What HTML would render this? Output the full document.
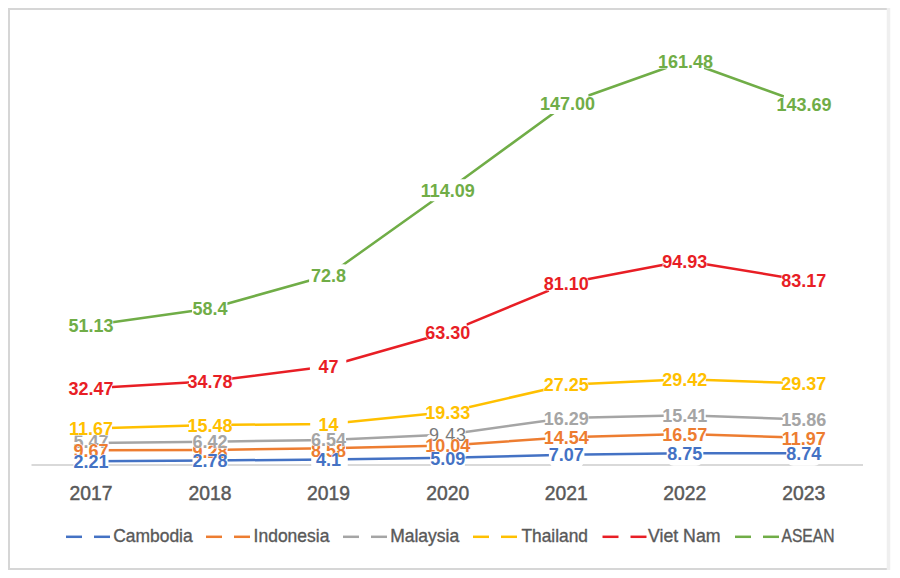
<!DOCTYPE html>
<html><head><meta charset="utf-8"><style>
html,body{margin:0;padding:0;background:#fff;width:900px;height:578px;overflow:hidden}
svg{position:absolute;left:0;top:0}
text{font-family:"Liberation Sans",sans-serif}
.lab text.reg{font-weight:normal;letter-spacing:0.6px}
.lab text{font-size:18px;font-weight:bold;text-anchor:middle;stroke:#fff;stroke-width:1px;paint-order:stroke;stroke-linejoin:round}
.ax text{font-size:19.3px;fill:#595959;stroke:#595959;stroke-width:0.45px;text-anchor:middle}
.leg text{font-size:17.8px;fill:#595959;stroke:#595959;stroke-width:0.35px}
</style></head><body>
<svg width="900" height="578" viewBox="0 0 900 578">
<rect x="0" y="0" width="900" height="578" fill="#fff"/>
<path d="M888 9 H9 V569 H888" fill="none" stroke="#D6D6D6" stroke-width="2"/>
<line x1="888.5" y1="8" x2="888.5" y2="570" stroke="#EFEFEF" stroke-width="3.5"/>
<g>
<line x1="31.5" y1="464.9" x2="863" y2="464.9" stroke="#D9D9D9" stroke-width="2"/>
<polyline points="91,461.3 210,460.5 328.5,459.5 447.8,457.8 566.3,454.7 684.7,453.3 803.8,453.3" fill="none" stroke="#4472C4" stroke-width="2.5" stroke-linejoin="round"/>
<polyline points="91,450.2 210,450 328.5,448.3 447.8,445.5 566.3,437.3 684.7,434 803.8,437.8" fill="none" stroke="#ED7D31" stroke-width="2.5" stroke-linejoin="round"/>
<polyline points="91,443 210,441.7 328.5,440 447.8,434.4 566.3,418 684.7,415.3 803.8,419.4" fill="none" stroke="#A5A5A5" stroke-width="2.5" stroke-linejoin="round"/>
<polyline points="91,428.5 210,425 328.5,424 447.8,412 566.3,384.7 684.7,379.3 803.8,383.3" fill="none" stroke="#FFC000" stroke-width="2.5" stroke-linejoin="round"/>
<polyline points="91,388.3 210,381.3 328.5,366.2 447.8,332.3 566.3,283.3 684.7,260.8 803.8,280.4" fill="none" stroke="#E81E25" stroke-width="2.5" stroke-linejoin="round"/>
<polyline points="91,325.3 210,308.5 328.5,275.3 447.8,190.2 567.5,103 685.5,61 804,103.8" fill="none" stroke="#70AD47" stroke-width="2.5" stroke-linejoin="round"/>
</g>
<g>
<rect x="73.5" y="448.8" width="35.0" height="25.0" rx="7" fill="#fff"/>
<rect x="192.5" y="448.0" width="35.0" height="25.0" rx="7" fill="#fff"/>
<rect x="311.2" y="447.0" width="36.6" height="25.0" rx="7" fill="#fff"/>
<rect x="430.3" y="445.3" width="35.0" height="25.0" rx="7" fill="#fff"/>
<rect x="548.9" y="442.2" width="35.5" height="25.0" rx="7" fill="#fff"/>
<rect x="666.7" y="440.8" width="36.6" height="25.0" rx="7" fill="#fff"/>
<rect x="786.3" y="440.8" width="35.0" height="25.0" rx="7" fill="#fff"/>
<rect x="73.5" y="439.2" width="35.0" height="22" rx="4" fill="#fff"/>
<rect x="192.5" y="439.0" width="35.0" height="22" rx="4" fill="#fff"/>
<rect x="311.0" y="437.3" width="35.0" height="22" rx="4" fill="#fff"/>
<rect x="426.8" y="434.5" width="42.0" height="22" rx="4" fill="#fff"/>
<rect x="545.3" y="426.3" width="42.0" height="22" rx="4" fill="#fff"/>
<rect x="663.7" y="423.0" width="42.0" height="22" rx="4" fill="#fff"/>
<rect x="782.8" y="426.8" width="42.0" height="22" rx="4" fill="#fff"/>
<rect x="73.5" y="432.0" width="35.0" height="22" rx="4" fill="#fff"/>
<rect x="192.5" y="430.7" width="35.0" height="22" rx="4" fill="#fff"/>
<rect x="311.0" y="429.0" width="35.0" height="22" rx="4" fill="#fff"/>
<rect x="430.3" y="423.4" width="35.0" height="22" rx="4" fill="#fff"/>
<rect x="545.3" y="407.0" width="42.0" height="22" rx="4" fill="#fff"/>
<rect x="663.7" y="404.3" width="42.0" height="22" rx="4" fill="#fff"/>
<rect x="782.8" y="408.4" width="42.0" height="22" rx="4" fill="#fff"/>
<rect x="70.0" y="417.5" width="42.0" height="22" rx="4" fill="#fff"/>
<rect x="189.0" y="414.0" width="42.0" height="22" rx="4" fill="#fff"/>
<rect x="310.2" y="413.0" width="37.6" height="22" rx="4" fill="#fff"/>
<rect x="426.8" y="401.0" width="42.0" height="22" rx="4" fill="#fff"/>
<rect x="545.3" y="373.7" width="42.0" height="22" rx="4" fill="#fff"/>
<rect x="663.7" y="368.3" width="42.0" height="22" rx="4" fill="#fff"/>
<rect x="782.8" y="372.3" width="42.0" height="22" rx="4" fill="#fff"/>
<rect x="70.0" y="377.3" width="42.0" height="22" rx="4" fill="#fff"/>
<rect x="189.0" y="370.3" width="42.5" height="22" rx="4" fill="#fff"/>
<rect x="309.9" y="355.2" width="36.4" height="22" rx="4" fill="#fff"/>
<rect x="428.8" y="321.3" width="38.0" height="22" rx="4" fill="#fff"/>
<rect x="549.0" y="272.3" width="37.3" height="22" rx="4" fill="#fff"/>
<rect x="663.7" y="249.8" width="42.0" height="22" rx="4" fill="#fff"/>
<rect x="782.8" y="269.4" width="42.0" height="22" rx="4" fill="#fff"/>
<rect x="70.0" y="314.3" width="43.0" height="22" rx="4" fill="#fff"/>
<rect x="192.0" y="297.5" width="35.4" height="22" rx="4" fill="#fff"/>
<rect x="309.1" y="264.3" width="38.4" height="22" rx="4" fill="#fff"/>
<rect x="427.8" y="179.2" width="40.0" height="22" rx="4" fill="#fff"/>
<rect x="547.5" y="92.0" width="41.0" height="22" rx="4" fill="#fff"/>
<rect x="667.0" y="50.0" width="37.0" height="22" rx="4" fill="#fff"/>
<rect x="783.8" y="92.8" width="40.2" height="22" rx="4" fill="#fff"/>
</g>
<g class="lab">
<text x="447.8" y="441.1" fill="#7A7A7A" class="reg">9.43</text>
<text x="91" y="448.2" fill="#A5A5A5">5.47</text>
<text x="566.3" y="424.7" fill="#A5A5A5">16.29</text>
<text x="684.7" y="422.0" fill="#A5A5A5">15.41</text>
<text x="803.8" y="426.1" fill="#A5A5A5">15.86</text>
<text x="91" y="456.7" fill="#ED7D31">9.67</text>
<text x="210" y="457.7" fill="#ED7D31">9.28</text>
<text x="328.5" y="456.5" fill="#ED7D31">8.58</text>
<text x="447.8" y="452.2" fill="#ED7D31">10.04</text>
<text x="566.3" y="444.0" fill="#ED7D31">14.54</text>
<text x="684.7" y="440.7" fill="#ED7D31">16.57</text>
<text x="803.8" y="444.5" fill="#ED7D31">11.97</text>
<text x="210" y="447.5" fill="#A5A5A5">6.42</text>
<text x="328.5" y="445.9" fill="#A5A5A5">6.54</text>
<text x="91" y="468.0" fill="#4472C4">2.21</text>
<text x="210" y="467.2" fill="#4472C4">2.78</text>
<text x="328.5" y="466.2" fill="#4472C4">4.1</text>
<text x="447.8" y="464.5" fill="#4472C4">5.09</text>
<text x="566.3" y="461.4" fill="#4472C4">7.07</text>
<text x="684.7" y="460.0" fill="#4472C4">8.75</text>
<text x="803.8" y="460.0" fill="#4472C4">8.74</text>
<text x="91" y="435.2" fill="#FFC000">11.67</text>
<text x="210" y="431.7" fill="#FFC000">15.48</text>
<text x="328.5" y="430.7" fill="#FFC000">14</text>
<text x="447.8" y="418.7" fill="#FFC000">19.33</text>
<text x="566.3" y="391.4" fill="#FFC000">27.25</text>
<text x="684.7" y="386.0" fill="#FFC000">29.42</text>
<text x="803.8" y="390.0" fill="#FFC000">29.37</text>
<text x="91" y="395.0" fill="#E81E25">32.47</text>
<text x="210" y="388.0" fill="#E81E25">34.78</text>
<text x="328.5" y="372.9" fill="#E81E25">47</text>
<text x="447.8" y="339.0" fill="#E81E25">63.30</text>
<text x="566.3" y="290.0" fill="#E81E25">81.10</text>
<text x="684.7" y="267.5" fill="#E81E25">94.93</text>
<text x="803.8" y="287.1" fill="#E81E25">83.17</text>
<text x="91" y="332.0" fill="#70AD47">51.13</text>
<text x="210" y="315.2" fill="#70AD47">58.4</text>
<text x="328.5" y="282.0" fill="#70AD47">72.8</text>
<text x="447.8" y="196.9" fill="#70AD47">114.09</text>
<text x="567.5" y="109.7" fill="#70AD47">147.00</text>
<text x="685.5" y="67.7" fill="#70AD47">161.48</text>
<text x="804" y="110.5" fill="#70AD47">143.69</text>
</g>
<g class="ax"><text x="91" y="499.5">2017</text><text x="210" y="499.5">2018</text><text x="328.5" y="499.5">2019</text><text x="447.8" y="499.5">2020</text><text x="566.3" y="499.5">2021</text><text x="684.7" y="499.5">2022</text><text x="803.8" y="499.5">2023</text></g>
<g class="leg">
<line x1="66" y1="536.8" x2="82" y2="536.8" stroke="#4472C4" stroke-width="2.5"/>
<line x1="94" y1="536.8" x2="110" y2="536.8" stroke="#4472C4" stroke-width="2.5"/>
<text x="113.2" y="541.6" textLength="79.5" lengthAdjust="spacingAndGlyphs">Cambodia</text>
<line x1="206" y1="536.8" x2="222" y2="536.8" stroke="#ED7D31" stroke-width="2.5"/>
<line x1="234" y1="536.8" x2="250" y2="536.8" stroke="#ED7D31" stroke-width="2.5"/>
<text x="253.6" y="541.6" textLength="75.8" lengthAdjust="spacingAndGlyphs">Indonesia</text>
<line x1="343" y1="536.8" x2="359" y2="536.8" stroke="#A5A5A5" stroke-width="2.5"/>
<line x1="371" y1="536.8" x2="387" y2="536.8" stroke="#A5A5A5" stroke-width="2.5"/>
<text x="390.2" y="541.6" textLength="69" lengthAdjust="spacingAndGlyphs">Malaysia</text>
<line x1="473" y1="536.8" x2="489" y2="536.8" stroke="#FFC000" stroke-width="2.5"/>
<line x1="501" y1="536.8" x2="517" y2="536.8" stroke="#FFC000" stroke-width="2.5"/>
<text x="521.5" y="541.6" textLength="66.5" lengthAdjust="spacingAndGlyphs">Thailand</text>
<line x1="602.5" y1="536.8" x2="618.5" y2="536.8" stroke="#E81E25" stroke-width="2.5"/>
<line x1="630.5" y1="536.8" x2="646.5" y2="536.8" stroke="#E81E25" stroke-width="2.5"/>
<text x="648" y="541.6" textLength="72.5" lengthAdjust="spacingAndGlyphs">Viet Nam</text>
<line x1="735" y1="536.8" x2="751" y2="536.8" stroke="#70AD47" stroke-width="2.5"/>
<line x1="763" y1="536.8" x2="779" y2="536.8" stroke="#70AD47" stroke-width="2.5"/>
<text x="781.5" y="541.6" textLength="53" lengthAdjust="spacingAndGlyphs">ASEAN</text>
</g>
</svg>
</body></html>
